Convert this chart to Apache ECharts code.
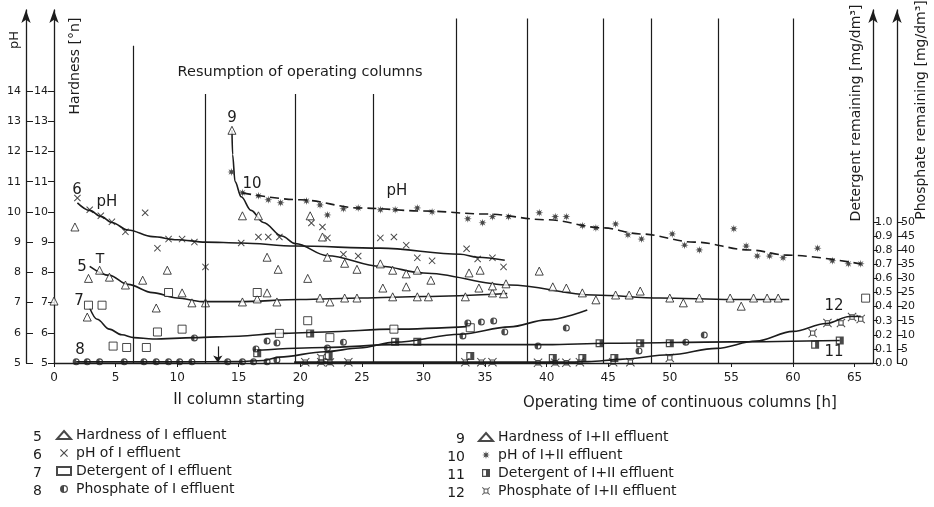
<!DOCTYPE html>
<html>
<head>
<meta charset="utf-8">
<script src="https://cdn.jsdelivr.net/npm/echarts@6/dist/echarts.min.js"></script>
<style>
  html, body { margin: 0; padding: 0; background: #fff; }
  #chart { width: 934px; height: 507px; }
</style>
</head>
<body>
<div id="chart"></div>
<script>
// tick labels
const hourTicks = [0, 5, 10, 15, 20, 25, 30, 35, 40, 45, 50, 55, 60, 65];
const leftTicks = [5, 6, 7, 8, 9, 10, 11, 12, 13, 14];
const detTicks = [0, 0.1, 0.2, 0.3, 0.4, 0.5, 0.6, 0.7, 0.8, 0.9, 1.0];
const phosTicks = [0, 5, 10, 15, 20, 25, 30, 35, 40, 45, 50];

// vertical reference lines (hours) and where they stop (hardness units)
const vHours = [6.4, 12.3, 19.6, 25.9, 32.7, 38.4, 44.6, 48.5, 53.9, 60.0];
const vTops = [15.5, 13.9, 13.9, 13.9, 16.4, 16.4, 16.4, 16.4, 16.4, 16.4];

// 5 hardness of I effluent [°n]
const hard1 = [[0,7.05],[1.7,9.5],[2.7,6.52],[2.8,7.8],[3.7,8.07],[4.5,7.84],[5.8,7.58],[7.2,7.74],[8.3,6.82],[9.2,8.07],[10.4,7.32],[11.2,6.99],[12.3,6.99],[15.3,7.02],[16.5,7.12],[17.3,7.32],[18.1,7.02],[21.6,7.15],[22.4,7.02],[23.6,7.15],[24.6,7.15],[27.5,7.19],[29.5,7.19],[30.4,7.19],[33.4,7.19],[35.6,7.32],[36.5,7.29]];
const hard1Fit = [[2.9,8.2],[4.5,7.9],[6,7.6],[8,7.33],[10,7.15],[12,7.03],[15,7.03],[20,7.1],[25,7.15],[30,7.2],[36.8,7.3]];

// 6 pH of I effluent
const ph1 = [[1.9,10.46],[2.9,10.07],[3.8,9.87],[4.7,9.67],[5.8,9.34],[7.4,9.97],[8.4,8.8],[9.3,9.1],[10.4,9.1],[11.4,9.0],[12.3,8.18],[15.2,8.97],[16.6,9.17],[17.4,9.17],[18.3,9.17],[20.9,9.63],[21.8,9.5],[22.2,9.14],[23.5,8.6],[24.7,8.54],[26.5,9.14],[27.6,9.17],[28.6,8.9],[29.5,8.48],[30.7,8.38],[33.5,8.78],[34.4,8.44],[35.6,8.48],[36.5,8.18]];
const ph1Fit = [[1.9,10.3],[2.9,10.05],[3.8,9.85],[4.7,9.65],[6,9.4],[8,9.18],[10,9.08],[12.3,9.0],[15.2,8.97],[19.6,8.87],[26.5,8.8],[33.0,8.6],[34.4,8.5],[36.6,8.4]];

// 9 hardness of I+II effluent [°n]
const hard12 = [[14.45,12.7],[15.3,9.87],[16.6,9.87],[17.3,8.5],[18.2,8.1],[20.6,7.8],[20.8,9.87],[21.8,9.17],[22.2,8.5],[23.6,8.3],[24.6,8.1],[26.5,8.28],[26.7,7.48],[27.5,8.07],[28.6,7.95],[28.6,7.52],[29.5,8.07],[30.6,7.74],[33.7,7.98],[34.5,7.48],[34.6,8.07],[35.6,7.55],[36.7,7.62],[39.4,8.04],[40.5,7.52],[41.6,7.48],[42.9,7.32],[44.0,7.09],[45.6,7.25],[46.7,7.25],[47.6,7.38],[50.0,7.15],[51.1,6.99],[52.4,7.15],[54.9,7.15],[55.8,6.88],[56.8,7.15],[57.9,7.15],[58.8,7.15]];
const hard12Fit = [[14.45,12.7],[14.5,11.9],[14.7,11.0],[15.2,10.5],[16,10.05],[17,9.65],[18.5,9.2],[19.6,8.95],[22.2,8.55],[26.5,8.2],[30,7.98],[37,7.58],[43.8,7.25],[49.2,7.15],[55,7.1],[59.7,7.1]];

// 10 pH of I+II effluent
const ph12 = [[14.4,11.32],[15.3,10.63],[16.6,10.53],[17.4,10.4],[18.4,10.3],[20.5,10.36],[21.6,10.23],[22.2,9.9],[23.5,10.1],[24.7,10.13],[26.5,10.07],[27.7,10.07],[29.5,10.13],[30.7,10.0],[33.6,9.77],[34.8,9.64],[35.6,9.84],[36.9,9.84],[39.4,9.97],[40.7,9.84],[41.6,9.84],[42.9,9.54],[44.0,9.47],[45.6,9.6],[46.6,9.24],[47.7,9.1],[50.2,9.27],[51.2,8.9],[52.4,8.74],[55.2,9.44],[56.2,8.87],[57.1,8.54],[58.1,8.54],[59.2,8.48],[62.0,8.8],[63.2,8.38],[64.5,8.28],[65.5,8.28]];
const ph12Fit = [[15.3,10.63],[20,10.4],[24.8,10.13],[30,10.03],[35,9.93],[40,9.74],[44.6,9.47],[47.6,9.27],[52,9.0],[56.5,8.74],[59.5,8.57],[65.5,8.28]];

// 7 detergent of I effluent [mg/dm3]
const det1 = [[2.8,0.41],[3.9,0.41],[4.8,0.12],[5.9,0.11],[7.5,0.11],[8.4,0.22],[9.3,0.50],[10.4,0.24],[16.5,0.50],[18.3,0.21],[20.6,0.30],[22.4,0.18],[27.6,0.24],[33.8,0.25],[65.9,0.46]];
const det1Fit = [[2.9,0.39],[3.5,0.31],[4.5,0.24],[5.5,0.2],[6.5,0.18],[8,0.17],[11.4,0.18],[15,0.19],[18.3,0.21],[22,0.22],[27.6,0.24],[33.8,0.26]];

// 8 phosphate of I effluent [mg/dm3]
const phos1 = [[1.8,0.4],[2.7,0.4],[3.7,0.4],[5.7,0.4],[7.3,0.4],[8.3,0.4],[9.3,0.4],[10.2,0.4],[11.2,0.4],[11.4,8.9],[14.1,0.4],[15.3,0.4],[16.2,0.4],[16.4,5.0],[17.3,0.4],[17.3,7.8],[18.1,1.1],[18.1,7.1],[22.2,5.3],[23.5,7.4],[33.2,9.6],[33.6,14.2],[34.7,14.5],[35.7,14.9],[36.6,11.0],[39.3,6.0],[41.6,12.4],[47.5,4.3],[51.3,7.4],[52.8,9.9]];
const phos1Fit = [[1.8,0.4],[10,0.4],[15,0.5],[17,0.9],[18.3,2.1],[22,4.0],[24.8,5.3],[27.7,7.4],[33,10.2],[37,12.8],[40,15.3],[43.3,18.8]];

// 11 detergent of I+II effluent [mg/dm3]
const det12 = [[16.5,0.07],[20.8,0.21],[22.3,0.05],[27.7,0.15],[29.5,0.15],[33.8,0.05],[40.5,0.035],[42.9,0.035],[44.3,0.14],[45.5,0.035],[47.6,0.14],[50,0.14],[61.8,0.13],[63.8,0.16]];
const det12Fit = [[16.5,0.09],[22,0.11],[27.7,0.13],[33.8,0.13],[40,0.13],[45,0.14],[55,0.15],[63.8,0.16]];

// 12 phosphate of I+II effluent [mg/dm3]
const phos12 = [[20.4,0.3],[21.7,1.8],[21.7,0.3],[22.4,0.2],[23.9,0.3],[33.4,0.3],[34.7,0.3],[35.6,0.3],[39.3,0.1],[40.7,0.1],[41.6,0.1],[42.7,0.3],[45.4,0.3],[46.8,0.3],[50.0,1.8],[61.6,10.6],[62.8,14.2],[63.9,14.2],[64.8,16.3],[65.5,15.6]];
const phos12Fit = [[19.5,0.3],[30,0.3],[42,0.3],[43.4,0.5],[46,1.3],[50,2.9],[53.8,5.2],[57,7.8],[60,11.2],[62.7,14.0],[64.6,16.5],[65.5,16.6]];

const INK = '#1c1c1c';
const FONT = 'DejaVu Sans';

function starPath(n, R, r) {
  let d = '';
  for (let i = 0; i < 2 * n; i++) {
    const a = i * Math.PI / n - Math.PI / 2;
    const rad = i % 2 ? r : R;
    d += (i ? 'L' : 'M') + (5 + rad * Math.cos(a)).toFixed(2) + ',' + (5 + rad * Math.sin(a)).toFixed(2);
  }
  return 'path://' + d + 'Z';
}

const symCross = 'path://M0,1 L1,0 L5,4 L9,0 L10,1 L6,5 L10,9 L9,10 L5,6 L1,10 L0,9 L4,5 Z';
const symStar = starPath(8, 5, 2);
const symHalfCircle = 'path://M0,5 A5,5 0 1,1 10,5 A5,5 0 1,1 0,5 Z M1.6,5 A3.4,3.4 0 1,0 8.4,5 A3.4,3.4 0 1,0 1.6,5 Z M5,1.6 A3.4,3.4 0 0,0 5,8.4 Z';
const symHalfSquare = 'path://M0,0 L10,0 L10,10 L0,10 Z M1.5,1.5 L1.5,8.5 L8.5,8.5 L8.5,1.5 Z M5,1.5 L8.5,1.5 L8.5,8.5 L5,8.5 Z';
const symCornerSquare = 'path://M2,2 L8,2 L8,8 L2,8 Z M3.2,3.2 L3.2,6.8 L6.8,6.8 L6.8,3.2 Z M0,0.8 L0.8,0 L2.6,1.8 L1.8,2.6 Z M10,0.8 L9.2,0 L7.4,1.8 L8.2,2.6 Z M0,9.2 L0.8,10 L2.6,8.2 L1.8,7.4 Z M10,9.2 L9.2,10 L7.4,8.2 L8.2,7.4 Z';

const openStyle = { color: '#fff', borderColor: INK, borderWidth: 1 };
const inkStyle = { color: INK };

function fitLine(data, yAxisIndex, dashed) {
  return {
    type: 'line', data, yAxisIndex, symbol: 'none', smooth: 0.35, smoothMonotone: 'x',
    silent: true, z: 2,
    lineStyle: { color: INK, width: 1.6, type: dashed ? [9, 5] : 'solid' }
  };
}
function marks(name, data, yAxisIndex, symbol, size, style) {
  return { type: 'scatter', name, data, yAxisIndex, symbol, symbolSize: size, itemStyle: style, z: 3 };
}

const chart = echarts.init(document.getElementById('chart'));

const axisText = { color: INK, fontFamily: FONT, fontSize: 11 };
const yBase = {
  type: 'value', splitLine: { show: false },
  axisLine: { show: true, lineStyle: { color: INK, width: 1.3 }, symbol: ['none', 'arrow'], symbolSize: [7, 13] }
};
const legendBase = {
  orient: 'vertical', height: 90, padding: 0, itemWidth: 14, itemHeight: 8, itemGap: 4,
  textStyle: { color: INK, fontFamily: FONT, fontSize: 14 }
};

const option = {
  backgroundColor: '#fff',
  animation: false,
  grid: { left: 54, right: 61, top: 10, bottom: 144 },
  xAxis: {
    type: 'value', min: 0, max: 66.5, splitLine: { show: false },
    axisLine: { lineStyle: { color: INK, width: 1.3 } },
    axisTick: { customValues: hourTicks, length: 4, lineStyle: { color: INK } },
    axisLabel: { customValues: hourTicks, margin: 9, ...axisText, fontSize: 12 }
  },
  yAxis: [
    { ...yBase, position: 'left', offset: 0, min: 5, max: 16.68,
      axisTick: { customValues: leftTicks, length: 6, lineStyle: { color: INK } },
      axisLabel: { customValues: leftTicks, margin: 6, ...axisText } },
    { ...yBase, position: 'left', offset: 28, min: 5, max: 16.68,
      axisTick: { customValues: leftTicks, inside: true, length: 7, lineStyle: { color: INK } },
      axisLabel: { customValues: leftTicks, margin: 5, ...axisText } },
    { ...yBase, position: 'right', offset: 0, min: 0, max: 2.504,
      axisTick: { customValues: detTicks, length: 5, lineStyle: { color: INK } },
      axisLabel: { customValues: detTicks, margin: 2, formatter: v => v.toFixed(1), ...axisText } },
    { ...yBase, position: 'right', offset: 24, min: 0, max: 125.2,
      axisTick: { customValues: phosTicks, length: 6, lineStyle: { color: INK } },
      axisLabel: { customValues: phosTicks, margin: 4, ...axisText } }
  ],
  legend: [
    { ...legendBase, left: 56, top: 428,
      data: ['Hardness of I effluent', 'pH of I effluent', 'Detergent of I effluent', 'Phosphate of I effluent'] },
    { ...legendBase, left: 478, top: 430,
      data: ['Hardness of I+II effluent', 'pH of I+II effluent', 'Detergent of I+II effluent', 'Phosphate of I+II effluent'] }
  ],
  series: [
    Object.assign(fitLine(hard1Fit, 0), {
      markLine: {
        silent: true, symbol: 'none', label: { show: false },
        lineStyle: { color: INK, width: 1.2, type: 'solid' },
        data: vHours.map((h, i) => [{ coord: [h, 5] }, { coord: [h, vTops[i]] }])
      }
    }),
    Object.assign(fitLine(ph1Fit, 0), {
      markLine: {
        silent: true, symbol: ['none', 'arrow'], symbolSize: 7, label: { show: false },
        lineStyle: { color: INK, width: 1.2, type: 'solid' },
        data: [[{ coord: [13.3, 5.55] }, { coord: [13.3, 5.02] }]]
      }
    }),
    fitLine(hard12Fit, 0),
    fitLine(ph12Fit, 0, true),
    fitLine(det1Fit, 2),
    fitLine(phos1Fit, 3),
    fitLine(det12Fit, 2),
    fitLine(phos12Fit, 3),
    marks('Hardness of I effluent', hard1, 0, 'triangle', 8, openStyle),
    marks('pH of I effluent', ph1, 0, symCross, 7, inkStyle),
    marks('Detergent of I effluent', det1, 2, 'rect', 8, openStyle),
    marks('Phosphate of I effluent', phos1, 3, symHalfCircle, 7, inkStyle),
    marks('Hardness of I+II effluent', hard12, 0, 'triangle', 8, openStyle),
    marks('pH of I+II effluent', ph12, 0, symStar, 8, inkStyle),
    marks('Detergent of I+II effluent', det12, 2, symHalfSquare, 8, inkStyle),
    marks('Phosphate of I+II effluent', phos12, 3, symCornerSquare, 9, inkStyle)
  ],
  graphic: [
    ...[
      ['pH', 15, 40, 13], ['Hardness [°n]', 75, 66, 14],
      ['Detergent remaining [mg/dm³]', 856, 113, 14], ['Phosphate remaining [mg/dm³]', 921, 110, 14]
    ].map(([t, x, y, fs]) => ({
      type: 'text', x, y, rotation: Math.PI / 2,
      style: { text: t, fill: INK, font: fs + 'px ' + FONT, align: 'center', verticalAlign: 'middle' }
    })),
    ...[
      ['Resumption of operating columns', 300, 72, 14.5],
      ['II column starting', 239, 400, 15],
      ['Operating time of continuous columns [h]', 680, 403, 15],
      ['6', 77, 190, 15], ['pH', 107, 202, 15], ['T', 100, 259, 14], ['5', 82, 267, 15],
      ['7', 79, 301, 15], ['8', 80, 350, 15], ['9', 232, 118, 15], ['10', 252, 184, 15],
      ['pH', 397, 191, 15], ['12', 834, 306, 15], ['11', 834, 352, 15]
    ].map(([t, x, y, fs]) => ({
      type: 'text', x, y,
      style: { text: t, fill: INK, font: fs + 'px ' + FONT, align: 'center', verticalAlign: 'middle' }
    })),
    ...[
      ['5', 42, 437], ['6', 42, 455], ['7', 42, 473], ['8', 42, 491],
      ['9', 465, 439], ['10', 465, 457], ['11', 465, 475], ['12', 465, 493]
    ].map(([t, x, y]) => ({
      type: 'text', x, y,
      style: { text: t, fill: INK, font: '14px ' + FONT, align: 'right', verticalAlign: 'middle' }
    }))
  ]
};

chart.setOption(option);
</script>
</body>
</html>
